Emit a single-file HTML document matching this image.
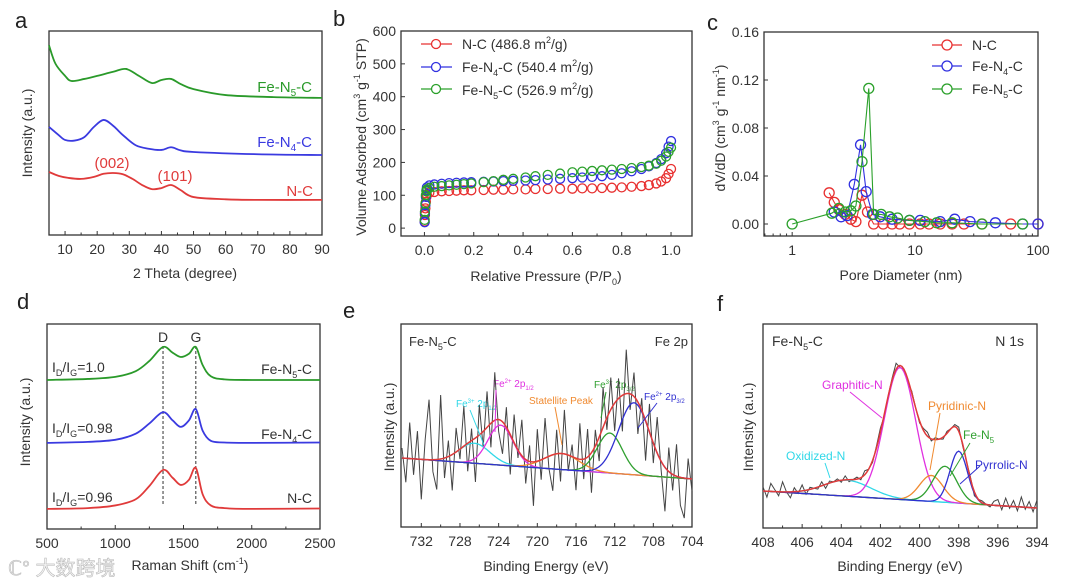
<!DOCTYPE html>
<html><head><meta charset="utf-8">
<style>
html,body{margin:0;padding:0;background:#fff;}
svg{display:block;font-family:"Liberation Sans","Noto Sans CJK SC",sans-serif;}
.t{fill:#333;font-size:14px;}
.pl{fill:#222;font-size:22px;}
</style></head>
<body>
<svg id="fig" width="1080" height="585" viewBox="0 0 1080 585" xmlns="http://www.w3.org/2000/svg">
<!-- panel letters -->
<text class="pl" x="15" y="28">a</text>
<text class="pl" x="333" y="26">b</text>
<text class="pl" x="707" y="30">c</text>
<text class="pl" x="17" y="309">d</text>
<text class="pl" x="343" y="318">e</text>
<text class="pl" x="717" y="311">f</text>

<!-- axis titles -->
<text class="t" transform="translate(32,133) rotate(-90)" text-anchor="middle">Intensity (a.u.)</text>
<text class="t" x="185" y="278" text-anchor="middle">2 Theta (degree)</text>
<text class="t" transform="translate(366,137) rotate(-90)" text-anchor="middle">Volume  Adsorbed (cm<tspan font-size="9" dy="-6">3</tspan><tspan dy="6"> g</tspan><tspan font-size="9" dy="-6">-1</tspan><tspan dy="6"> STP)</tspan></text>
<text class="t" x="546" y="281" text-anchor="middle">Relative Pressure (P/P<tspan font-size="9" dy="4">0</tspan><tspan dy="-4">)</tspan></text>
<text class="t" transform="translate(725,128) rotate(-90)" text-anchor="middle">dV/dD (cm<tspan font-size="9" dy="-6">3</tspan><tspan dy="6"> g</tspan><tspan font-size="9" dy="-6">-1</tspan><tspan dy="6"> nm</tspan><tspan font-size="9" dy="-6">-1</tspan><tspan dy="6">)</tspan></text>
<text class="t" x="901" y="280" text-anchor="middle">Pore Diameter (nm)</text>
<text class="t" transform="translate(30,422) rotate(-90)" text-anchor="middle">Intensity (a.u.)</text>
<text class="t" x="190" y="570" text-anchor="middle">Raman Shift (cm<tspan font-size="9" dy="-6">-1</tspan><tspan dy="6">)</tspan></text>
<text class="t" transform="translate(394,427) rotate(-90)" text-anchor="middle">Intensity (a.u.)</text>
<text class="t" x="546" y="571" text-anchor="middle">Binding Energy (eV)</text>
<text class="t" transform="translate(753,427) rotate(-90)" text-anchor="middle">Intensity (a.u.)</text>
<text class="t" x="900" y="571" text-anchor="middle">Binding Energy (eV)</text>

<!-- panel a labels -->
<text x="312" y="92" font-size="15" fill="#2a9a2a" text-anchor="end">Fe-N<tspan font-size="10" dy="4">5</tspan><tspan dy="-4">-C</tspan></text>
<text x="312" y="147" font-size="15" fill="#3a3ae0" text-anchor="end">Fe-N<tspan font-size="10" dy="4">4</tspan><tspan dy="-4">-C</tspan></text>
<text x="313" y="196" font-size="15" fill="#e03a3a" text-anchor="end">N-C</text>
<text x="112" y="168" font-size="15" fill="#e03a3a" text-anchor="middle">(002)</text>
<text x="175" y="181" font-size="15" fill="#e03a3a" text-anchor="middle">(101)</text>

<!-- panel b legend texts -->
<text class="t" x="462" y="49">N-C (486.8 m<tspan font-size="9" dy="-6">2</tspan><tspan dy="6">/g)</tspan></text>
<text class="t" x="462" y="72">Fe-N<tspan font-size="9" dy="4">4</tspan><tspan dy="-4">-C (540.4 m</tspan><tspan font-size="9" dy="-6">2</tspan><tspan dy="6">/g)</tspan></text>
<text class="t" x="462" y="95">Fe-N<tspan font-size="9" dy="4">5</tspan><tspan dy="-4">-C (526.9 m</tspan><tspan font-size="9" dy="-6">2</tspan><tspan dy="6">/g)</tspan></text>
<!-- panel c legend texts -->
<text class="t" x="972" y="50">N-C</text>
<text class="t" x="972" y="71">Fe-N<tspan font-size="9" dy="4">4</tspan><tspan dy="-4">-C</tspan></text>
<text class="t" x="972" y="94">Fe-N<tspan font-size="9" dy="4">5</tspan><tspan dy="-4">-C</tspan></text>

<!-- panel d labels -->
<text class="t" x="52" y="372">I<tspan font-size="9" dy="4">D</tspan><tspan dy="-4">/I</tspan><tspan font-size="9" dy="4">G</tspan><tspan dy="-4">=1.0</tspan></text>
<text class="t" x="52" y="433">I<tspan font-size="9" dy="4">D</tspan><tspan dy="-4">/I</tspan><tspan font-size="9" dy="4">G</tspan><tspan dy="-4">=0.98</tspan></text>
<text class="t" x="52" y="502">I<tspan font-size="9" dy="4">D</tspan><tspan dy="-4">/I</tspan><tspan font-size="9" dy="4">G</tspan><tspan dy="-4">=0.96</tspan></text>
<text class="t" x="312" y="374" text-anchor="end">Fe-N<tspan font-size="9" dy="4">5</tspan><tspan dy="-4">-C</tspan></text>
<text class="t" x="312" y="439" text-anchor="end">Fe-N<tspan font-size="9" dy="4">4</tspan><tspan dy="-4">-C</tspan></text>
<text class="t" x="312" y="503" text-anchor="end">N-C</text>
<text class="t" x="163" y="342" text-anchor="middle">D</text>
<text class="t" x="196" y="342" text-anchor="middle">G</text>

<!-- panel e labels -->
<text x="409" y="346" font-size="13" fill="#333">Fe-N<tspan font-size="9" dy="4">5</tspan><tspan dy="-4">-C</tspan></text>
<text x="688" y="346" font-size="13" fill="#333" text-anchor="end">Fe 2p</text>
<text x="456" y="407" font-size="10" fill="#30d8e8">Fe<tspan font-size="6" dy="-4">3+</tspan><tspan dy="4"> 2p</tspan><tspan font-size="6" dy="3">1/2</tspan></text>
<text x="493" y="387" font-size="10" fill="#e030e0">Fe<tspan font-size="6" dy="-4">2+</tspan><tspan dy="4"> 2p</tspan><tspan font-size="6" dy="3">1/2</tspan></text>
<text x="529" y="404" font-size="10" fill="#f08a30">Statellite Peak</text>
<text x="594" y="388" font-size="10" fill="#30a030">Fe<tspan font-size="6" dy="-4">3+</tspan><tspan dy="4"> 2p</tspan><tspan font-size="6" dy="3">3/2</tspan></text>
<text x="644" y="400" font-size="10" fill="#3030d0">Fe<tspan font-size="6" dy="-4">2+</tspan><tspan dy="4"> 2p</tspan><tspan font-size="6" dy="3">3/2</tspan></text>

<!-- panel f labels -->
<text x="772" y="346" font-size="14" fill="#333">Fe-N<tspan font-size="9" dy="4">5</tspan><tspan dy="-4">-C</tspan></text>
<text x="1024" y="346" font-size="14" fill="#333" text-anchor="end">N 1s</text>
<text x="822" y="389" font-size="12" fill="#e030e0">Graphitic-N</text>
<text x="928" y="410" font-size="12" fill="#f08a30">Pyridinic-N</text>
<text x="963" y="439" font-size="12" fill="#30a030">Fe-N<tspan font-size="8" dy="4">5</tspan></text>
<text x="975" y="469" font-size="12" fill="#3030d0">Pyrrolic-N</text>
<text x="786" y="460" font-size="12" fill="#30d8e8">Oxidized-N</text>

<!-- watermark -->
<text x="8" y="575" font-size="20" fill="#f4f4f4" stroke="#bbb" stroke-width="0.6">ℂ° 大数跨境</text>
</svg>

<script>
// ---------------- data ----------------
// panel a (XRD), intensity a.u.
const aGreenX=[5,7,10,12,16,20,25,29,33,37,40,43,46,50,60,75,90];
const aGreenV=[93,84,78,75.5,76.5,78,80,81.4,78,74.5,76,76.5,74,71.5,68.6,67.6,67.2];
const aBlueX=[5,8,10,13,16,19,22,25,28,32,36,40,43,46,50,70,90];
const aBlueV=[53,49,46.6,46.3,48,53,56.4,53.5,49,44,42.3,41.7,43,41.5,40.7,39.6,39.2];
const aRedX=[5,8,11,15,19,22,25,28,31,34,37,40,43,46,50,60,70,90];
const aRedV=[30.9,29,28,27.5,28.5,30,30.4,29.8,27.5,24.5,22.5,23,24.5,22,18.6,17.5,17.2,17.2];

// panel b (N2 isotherm)
const bP=[0.001,0.002,0.004,0.006,0.008,0.01,0.02,0.04,0.07,0.1,0.13,0.16,0.19,0.24,0.28,0.32,0.36,0.41,0.45,0.5,0.55,0.6,0.64,0.68,0.72,0.76,0.8,0.84,0.88,0.91,0.94,0.96,0.98,0.99,1.0];
const bNC=[20,40,60,80,95,102,108,110,112,113,114,115,115,116,117,117,118,118,119,119,120,120,121,121,122,123,124,126,128,131,136,142,152,165,180];
const bFeN4=[18,45,70,95,115,124,130,133,135,137,138,139,140,141,142,143,144,145,146,148,150,152,154,156,158,162,167,173,180,188,198,210,228,248,265];
const bFeN5=[25,50,75,100,112,118,122,126,128,130,132,134,136,140,143,147,150,154,158,162,166,170,172,174,176,178,180,183,186,190,196,205,218,232,245];
const bYTicks=[0,100,200,300,400,500,600];
const bXTicks=[0,0.2,0.4,0.6,0.8,1.0];
const bXLabels=["0.0","0.2","0.4","0.6","0.8","1.0"];

// panel c (pore size distribution)
const cNCx=[2,2.2,2.4,2.7,3,3.3,3.7,4.1,4.6,5.5,6.5,7.5,9,11,13,16,20,25,35,60,100];
const cNCv=[0.026,0.018,0.012,0.008,0.004,0.002,0.024,0.01,0.0,0,0,0,0,0,0,0,0,0,0,0,0];
const cN4x=[2.2,2.5,2.8,3.2,3.6,4.0,4.5,5.2,6.5,9,11,16,21,28,45,75,100];
const cN4v=[0.01,0.006,0.007,0.033,0.066,0.027,0.008,0.006,0.004,0.003,0.003,0.002,0.004,0.002,0.001,0,0];
const cN5x=[1,2.1,2.4,2.7,3.0,3.3,3.7,4.2,4.6,5.3,6.2,7.2,9,12,15,20,35,75];
const cN5v=[0,0.009,0.013,0.01,0.011,0.015,0.052,0.113,0.008,0.008,0.006,0.005,0.003,0.002,0.001,0.001,0,0];
const cYTicks=[0,0.04,0.08,0.12,0.16];
const cYLabels=["0.00","0.04","0.08","0.12","0.16"];
const cXTicks=[1,10,100];

// panel d (Raman)
const dX=[500,800,1000,1150,1250,1350,1420,1480,1540,1590,1640,1700,1800,2000,2500];
const dGreen=[72.7,73.2,74.2,77,82,88.8,86,83.9,85.5,88.8,80,74.5,73,72.7,72.7];
const dBlue=[42,42.5,43.5,46.5,51.5,57,53,49.8,53,58.5,48,43,42.2,42,42.2];
const dRed=[9.8,10.2,11.5,14.5,21,28.8,25,21.5,24,29.8,17,11.5,10.2,9.8,10];
const dPeaks=[1350,1590];
const dXTicks=[500,1000,1500,2000,2500];

// panel e (Fe 2p XPS)
const eBaseX=[734,704];
const eBaseV=[34.5,24];
const eCenters=[726.5,723.8,717.5,712.5,710.0];
const eHeights=[10,20,8,20,36];
const eWidths=[1.6,1.3,1.8,1.3,1.6];
const eResid=[5,-12,18,-8,14,-20,10,30,-6,-15,32,-10,8,-18,12,-5,20,-14,6,-22,15,-8,18,-12,24,-6,-16,10,-20,14,-4,18,-12,8,-22,16,-10,20,-6,-18,12,-14,22,-8,6,-16,18,-10,14,-20,8,-12,20,-6,16,-14,10,-18,22,-8,12,-16,6,-20,14,-10,18,-4,-22,12,-8,16,-14,-20,10,-6];
const eXTicks=[732,728,724,720,716,712,708,704];

// panel f (N 1s XPS)
const fBaseX=[408,394];
const fBaseV=[18.5,10];
const fCenters=[403.7,401.0,399.4,398.7,398.0];
const fHeights=[8,66,13,18,26];
const fWidths=[1.2,0.8,0.6,0.6,0.45];
const fResid=[2,-3,4,1,-2,5,0,-3,2,-1,3,-2,1,0,-1,2,-2,1,0,1,-1,2,-1,0,1,-1,2,0,-1,1,2,-1,0,1,3,-1,0,-2,1,0,-1,1,2,-1,1,0,-1,1,0,1,2,-1,0,1,-2,0,1,0,-1,2,3,-2,4,-1,3,-2,5,-1,3,-2,4];
const fXTicks=[408,406,404,402,400,398,396,394];

// ---------------- drawing ----------------
const NS='http://www.w3.org/2000/svg';
const svg=document.getElementById('fig');
function mk(tag,attrs){const e=document.createElementNS(NS,tag);for(const k in attrs)e.setAttribute(k,attrs[k]);svg.appendChild(e);return e;}
function lin(d0,d1,r0,r1){return v=>r0+(v-d0)/(d1-d0)*(r1-r0);}
function logs(d0,d1,r0,r1){return v=>r0+(Math.log10(v)-Math.log10(d0))/(Math.log10(d1)-Math.log10(d0))*(r1-r0);}
function smooth(pts){let d='M'+pts[0][0].toFixed(2)+','+pts[0][1].toFixed(2);
 for(let i=0;i<pts.length-1;i++){const p0=pts[Math.max(i-1,0)],p1=pts[i],p2=pts[i+1],p3=pts[Math.min(i+2,pts.length-1)];
  const c1=[p1[0]+(p2[0]-p0[0])/6,p1[1]+(p2[1]-p0[1])/6],c2=[p2[0]-(p3[0]-p1[0])/6,p2[1]-(p3[1]-p1[1])/6];
  d+='C'+c1[0].toFixed(2)+','+c1[1].toFixed(2)+' '+c2[0].toFixed(2)+','+c2[1].toFixed(2)+' '+p2[0].toFixed(2)+','+p2[1].toFixed(2);}
 return d;}
function poly(pts){return 'M'+pts.map(p=>p[0].toFixed(2)+','+p[1].toFixed(2)).join('L');}
function gauss(x,c,h,w){return h*Math.exp(-(x-c)*(x-c)/(2*w*w));}

function frame(name,x0,y0,x1,y1){
 const r=mk('rect',{x:x0,y:y0,width:x1-x0,height:y1-y0,fill:'none',stroke:'#333','stroke-width':1.3});
 
 
}
function xTicks(prefix,ticks,labels,sx,y1,minor){
 ticks.forEach((t,i)=>{
  const l=mk('line',{x1:sx(t),x2:sx(t),y1:y1,y2:y1-4,stroke:'#333','stroke-width':1});
  
  
  const tx=mk('text',{x:sx(t),y:y1+19,'text-anchor':'middle',class:'t'});
  tx.textContent=labels[i];
  
  
 });
 (minor||[]).forEach(t=>{
  const l=mk('line',{x1:sx(t),x2:sx(t),y1:y1,y2:y1-2.5,stroke:'#333','stroke-width':1});
  
  
 });
}
function yTicks(prefix,ticks,labels,sy,x0){
 ticks.forEach((t,i)=>{
  const l=mk('line',{x1:x0,x2:x0+4,y1:sy(t),y2:sy(t),stroke:'#333','stroke-width':1});
  
  
  const tx=mk('text',{x:x0-5,y:sy(t)+5,'text-anchor':'end',class:'t'});
  tx.textContent=labels[i];
  
  
 });
}
function midpoints(arr){const m=[];for(let i=0;i<arr.length-1;i++)m.push((arr[i]+arr[i+1])/2);return m;}

// ---- panel a ----
{
 const sx=lin(5,90,49,322), sy=lin(0,100,235,31);
 frame('a-plot-frame',49,31,322,235);
 const at=[10,20,30,40,50,60,70,80,90];
 xTicks('a',at,at.map(String),sx,235,[5,15,25,35,45,55,65,75,85]);
 [[aGreenX,aGreenV,'#2a9a2a','a-line-fe-n5-c'],[aBlueX,aBlueV,'#3a3ae0','a-line-fe-n4-c'],[aRedX,aRedV,'#e03a3a','a-line-n-c']].forEach(s=>{
  const p=mk('path',{d:smooth(s[0].map((x,i)=>[sx(x),sy(s[1][i])])),fill:'none',stroke:s[2],'stroke-width':1.8});
  
  
 });
}
// ---- panel b ----
{
 const sx=lin(-0.095,1.085,401,692), sy=lin(-24,600,236,31);
 frame('b-plot-frame',401,31,692,236);
 xTicks('b',bXTicks,bXLabels,sx,236,midpoints(bXTicks));
 yTicks('b',bYTicks,bYTicks.map(String),sy,401);
 const series=[[bNC,'#e83030','b-points-n-c'],[bFeN4,'#3030e0','b-points-fe-n4-c'],[bFeN5,'#2aa02a','b-points-fe-n5-c']];
 series.forEach((s,k)=>{
  bP.forEach((p,i)=>{
   const c=mk('circle',{cx:sx(p),cy:sy(s[0][i]),r:4.5,fill:'none',stroke:s[1],'stroke-width':1.3});
   
   
  });
  const ly=[44,67,89][k];
  const l=mk('line',{x1:421,x2:452,y1:ly,y2:ly,stroke:s[1],'stroke-width':1.3});
  
  
  const c=mk('circle',{cx:436,cy:ly,r:4.5,fill:'#fff',stroke:s[1],'stroke-width':1.3});
  
  
 });
}
// ---- panel c ----
{
 const sx=logs(0.59,100,764,1038), sy=lin(-0.01,0.16,236,32);
 frame('c-plot-frame',764,32,1038,236);
 const minor=[0.6,0.7,0.8,0.9,2,3,4,5,6,7,8,9,20,30,40,50,60,70,80,90];
 xTicks('c',cXTicks,cXTicks.map(String),sx,236,minor);
 yTicks('c',cYTicks,cYLabels,sy,764);
 const series=[[cNCx,cNCv,'#e83030','c-series-n-c'],[cN4x,cN4v,'#3030e0','c-series-fe-n4-c'],[cN5x,cN5v,'#2aa02a','c-series-fe-n5-c']];
 series.forEach((s,k)=>{
  const pts=s[0].map((x,i)=>[sx(x),sy(s[1][i])]);
  const p=mk('path',{d:poly(pts),fill:'none',stroke:s[2],'stroke-width':1.1});
  
  
  pts.forEach(q=>{
   const c=mk('circle',{cx:q[0],cy:q[1],r:5,fill:'none',stroke:s[2],'stroke-width':1.3});
   
   
  });
  const ly=[45,66,89][k];
  const l=mk('line',{x1:932,x2:962,y1:ly,y2:ly,stroke:s[2],'stroke-width':1.3});
  
  
  const c=mk('circle',{cx:947,cy:ly,r:5,fill:'#fff',stroke:s[2],'stroke-width':1.3});
  
  
 });
}
// ---- panel d ----
{
 const sx=lin(500,2500,47,320), sy=lin(0,100,529,324);
 frame('d-plot-frame',47,324,320,529);
 xTicks('d',dXTicks,dXTicks.map(String),sx,529,midpoints(dXTicks));
 dPeaks.forEach(pk=>{
  const l=mk('line',{x1:sx(pk),x2:sx(pk),y1:346,y2:505,stroke:'#555','stroke-width':1.2,'stroke-dasharray':'3,2'});
  
  
 });
 [[dGreen,'#2a9a2a','d-line-fe-n5-c'],[dBlue,'#3a3ae0','d-line-fe-n4-c'],[dRed,'#e03a3a','d-line-n-c']].forEach(s=>{
  const p=mk('path',{d:smooth(dX.map((x,i)=>[sx(x),sy(s[0][i])])),fill:'none',stroke:s[1],'stroke-width':1.8});
  
  
 });
}
// ---- XPS helper ----
function xps(prefix,x0,x1,y0,y1,xd0,xd1,yd1,baseX,baseV,cen,hei,wid,resid,colors,step){
 const sx=lin(xd0,xd1,x0,x1), sy=lin(0,yd1,y1,y0);
 const base=x=>baseV[0]+(x-baseX[0])/(baseX[1]-baseX[0])*(baseV[1]-baseV[0]);
 const grid=[];for(let x=baseX[0];x>=baseX[1]-1e-9;x-=0.1)grid.push(x);
 const env=x=>base(x)+cen.reduce((s,c,i)=>s+gauss(x,c,hei[i],wid[i]),0);
 // raw
 const raw=resid.map((r,i)=>{const x=baseX[0]-i*step;return [sx(x),sy(env(x)+r)];});
 const rp=mk('path',{d:poly(raw),fill:'none',stroke:'#444','stroke-width':1});
 
 
 // baseline
 const bl=mk('path',{d:poly(grid.map(x=>[sx(x),sy(base(x))])),fill:'none',stroke:'#30c0e0','stroke-width':1.2});
 
 
 cen.forEach((c,i)=>{
  const p=mk('path',{d:poly(grid.map(x=>[sx(x),sy(base(x)+gauss(x,c,hei[i],wid[i]))])),fill:'none',stroke:colors[i],'stroke-width':1.3});
  
  
 });
 const ep=mk('path',{d:poly(grid.map(x=>[sx(x),sy(env(x))])),fill:'none',stroke:'#e03a3a','stroke-width':1.5});
 
 
 return sx;
}
const fitColors=['#30d8e8','#e030e0','#f08a30','#30a030','#3030d0'];
// ---- panel e ----
{
 frame('e-plot-frame',401,324,692,527);
 const sx=xps('e',401,692,324,527,734.1,704,101.5,eBaseX,eBaseV,eCenters,eHeights,eWidths,eResid,fitColors,0.4);
 xTicks('e',eXTicks,eXTicks.map(String),sx,527,midpoints(eXTicks));
 [[470,410,484,445,'#30d8e8'],[496,390,495,432,'#e030e0'],[555,407,562,445,'#f08a30'],[606,392,601,418,'#30a030'],[657,403,638,428,'#3030d0']].forEach(a=>{
  const l=mk('line',{x1:a[0],y1:a[1],x2:a[2],y2:a[3],stroke:a[4],'stroke-width':1});
  
  
 });
}
// ---- panel f ----
{
 frame('f-plot-frame',763,324,1037,528);
 const sx=xps('f',763,1037,324,528,408,394,102,fBaseX,fBaseV,fCenters,fHeights,fWidths,fResid,['#30d8e8','#e030e0','#f08a30','#30a030','#3030d0'],0.2);
 xTicks('f',fXTicks,fXTicks.map(String),sx,528,midpoints(fXTicks));
 [[850,392,882,418,'#e030e0'],[940,413,930,470,'#f08a30'],[970,443,950,476,'#30a030'],[980,466,960,484,'#3030d0'],[825,463,830,478,'#30d8e8']].forEach(a=>{
  const l=mk('line',{x1:a[0],y1:a[1],x2:a[2],y2:a[3],stroke:a[4],'stroke-width':1});
  
  
 });
}
</script>
</body></html>
